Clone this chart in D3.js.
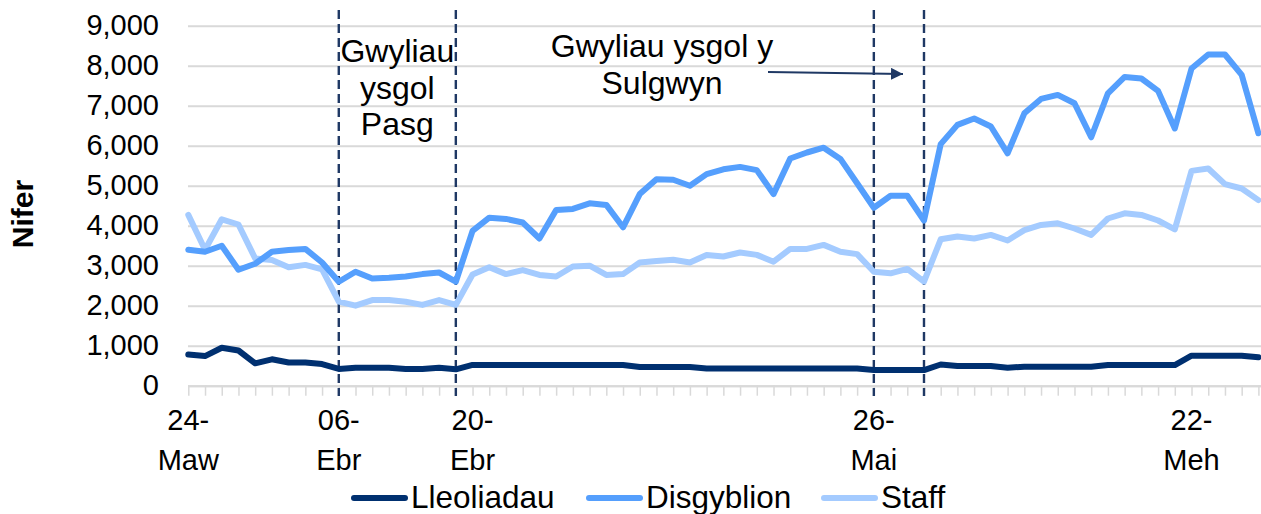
<!DOCTYPE html>
<html>
<head>
<meta charset="utf-8">
<script src="https://cdn.jsdelivr.net/npm/d3@7"></script>
<style>
  html, body { margin: 0; padding: 0; background: #ffffff; }
  svg { display: block; }
  text { font-family: "Liberation Sans", Arial, sans-serif; fill: #000; }
</style>
</head>
<body>
<svg id="chart" width="1261" height="514"></svg>
<script>
const categories = [
  "24-Maw","25-Maw","26-Maw","27-Maw","30-Maw","31-Maw","01-Ebr","02-Ebr","03-Ebr",
  "06-Ebr","07-Ebr","08-Ebr","09-Ebr","14-Ebr","15-Ebr","16-Ebr","17-Ebr",
  "20-Ebr","21-Ebr","22-Ebr","23-Ebr","24-Ebr","27-Ebr","28-Ebr","29-Ebr","30-Ebr",
  "01-Mai","04-Mai","05-Mai","06-Mai","07-Mai","11-Mai","12-Mai","13-Mai","14-Mai","15-Mai",
  "18-Mai","19-Mai","20-Mai","21-Mai","22-Mai","26-Mai","27-Mai","28-Mai","29-Mai",
  "01-Meh","02-Meh","03-Meh","04-Meh","05-Meh","08-Meh","09-Meh","10-Meh","11-Meh","12-Meh",
  "15-Meh","16-Meh","17-Meh","18-Meh","19-Meh","22-Meh","23-Meh","24-Meh","25-Meh","26-Meh"
];

const lleoliadau = [
  780,740,950,880,560,660,580,580,540,
  420,450,450,450,420,420,450,410,
  520,520,520,520,520,520,520,520,520,
  520,470,470,470,470,430,430,430,430,430,
  430,430,430,430,430,390,390,390,390,
  530,490,490,490,450,475,475,475,475,475,
  515,515,515,515,515,750,750,750,750,710
];

const disgyblion = [
  3400,3350,3500,2900,3050,3350,3390,3420,3080,
  2600,2850,2680,2700,2730,2790,2830,2600,
  3870,4200,4170,4080,3680,4390,4420,4560,4520,
  3960,4790,5160,5150,5000,5290,5410,5470,5390,4790,
  5680,5830,5950,5670,5060,4450,4750,4750,4130,
  6040,6520,6680,6480,5810,6810,7170,7270,7060,6210,
  7310,7720,7680,7370,6430,7930,8280,8280,7770,6310
];

const staff = [
  4270,3400,4160,4030,3180,3140,2960,3020,2910,
  2100,2000,2140,2140,2100,2020,2140,2020,
  2780,2960,2790,2890,2770,2730,2980,3000,2770,
  2790,3080,3120,3150,3080,3270,3230,3330,3270,3100,
  3420,3420,3520,3350,3290,2850,2810,2920,2600,
  3660,3730,3680,3770,3630,3890,4020,4060,3930,3770,
  4180,4310,4270,4130,3910,5370,5430,5040,4930,4640
];

const seriesNames = ["Lleoliadau", "Disgyblion", "Staff"];
const yTicks = [0,1000,2000,3000,4000,5000,6000,7000,8000,9000];
const xTickLabels = ["24-Maw","06-Ebr","20-Ebr","26-Mai","22-Meh"];
const holidayMarkers = ["06-Ebr","17-Ebr","26-Mai","29-Mai"];
const annotationEaster = ["Gwyliau","ysgol","Pasg"];
const annotationWhitsun = ["Gwyliau ysgol y","Sulgwyn"];
const yTitle = "Nifer";

const colors = { "Lleoliadau": "#003070", "Disgyblion": "#559ffd", "Staff": "#a4cbff" };
const FS = 29;

const svg = d3.select("#chart");
const x = d3.scalePoint().domain(categories).range([188.3, 1258.4]);
const y = d3.scaleLinear().domain([0, 9000]).range([385.7, 25.7]);
const plotRight = 1261;

// gridlines
const grid = svg.append("g").attr("transform", "translate(188,0)")
  .call(d3.axisLeft(y).tickValues(yTicks).tickSize(-(plotRight - 188)).tickFormat(""));
grid.select(".domain").remove();
grid.selectAll("line").attr("stroke", "#d9d9d9").attr("stroke-width", 2);

// x axis ticks
const xAxis = svg.append("g").attr("transform", `translate(0,${y(0)})`)
  .call(d3.axisBottom(x).tickSize(10).tickFormat(""));
xAxis.select(".domain").attr("stroke", "#d9d9d9").attr("stroke-width", 2)
  .attr("d", `M188,0.5H${plotRight}`);
xAxis.selectAll(".tick line").attr("stroke", "#d9d9d9").attr("stroke-width", 1.5);

// x labels
const xl = svg.append("g");
xTickLabels.forEach(lbl => {
  const parts = lbl.split("-");
  const t = xl.append("text").attr("text-anchor", "middle").attr("font-size", FS);
  t.append("tspan").attr("x", x(lbl)).attr("y", 430).text(parts[0] + "-");
  t.append("tspan").attr("x", x(lbl)).attr("y", 470).text(parts[1]);
});

// y axis labels
const yAxis = svg.append("g").attr("transform", "translate(159,0)")
  .call(d3.axisLeft(y).tickValues(yTicks).tickSize(0).tickPadding(0).tickFormat(d3.format(",")));
yAxis.select(".domain").remove();
yAxis.selectAll("text").attr("font-size", FS).attr("fill", "#000")
  .attr("font-family", '"Liberation Sans", Arial, sans-serif');

// y title
svg.append("text").attr("transform", "translate(33,214) rotate(-90)")
  .attr("text-anchor", "middle").attr("font-size", 30).attr("font-weight", "bold").text(yTitle);

// holiday dashed lines
svg.append("g").selectAll("line").data(holidayMarkers).join("line")
  .attr("x1", d => x(d)).attr("x2", d => x(d))
  .attr("y1", 10).attr("y2", 396)
  .attr("stroke", "#1f3864").attr("stroke-width", 2.4)
  .attr("stroke-dasharray", "9,5");

// lines
const dataBySeries = { "Lleoliadau": lleoliadau, "Disgyblion": disgyblion, "Staff": staff };
const line = d3.line().x((d, i) => x(categories[i])).y(d => y(d));
svg.append("defs").append("clipPath").attr("id", "clip")
  .append("rect").attr("x", 150).attr("y", 0).attr("width", plotRight - 150).attr("height", 400);
const lg = svg.append("g").attr("clip-path", "url(#clip)");
["Staff", "Disgyblion", "Lleoliadau"].forEach(name => {
  lg.append("path").datum(dataBySeries[name])
    .attr("d", line).attr("fill", "none")
    .attr("stroke", colors[name]).attr("stroke-width", 6)
    .attr("stroke-linejoin", "round").attr("stroke-linecap", "round");
});

// annotations
const ea = svg.append("text").attr("text-anchor", "middle").attr("font-size", 32);
annotationEaster.forEach((s, i) => {
  ea.append("tspan").attr("x", (x("06-Ebr") + x("17-Ebr")) / 2).attr("y", 62 + i * 36.5).text(s);
});
const wa = svg.append("text").attr("text-anchor", "middle").attr("font-size", 32);
annotationWhitsun.forEach((s, i) => {
  wa.append("tspan").attr("x", 662).attr("y", 57 + i * 36.5).text(s);
});
svg.append("defs").append("marker").attr("id", "arrow")
  .attr("viewBox", "0 0 10 10").attr("refX", 10).attr("refY", 5)
  .attr("markerWidth", 6).attr("markerHeight", 6).attr("markerUnits", "strokeWidth")
  .attr("orient", "auto")
  .append("path").attr("d", "M0,0L10,5L0,10z").attr("fill", "#1f3864");
svg.append("line").attr("x1", 768).attr("y1", 72).attr("x2", 903).attr("y2", 74)
  .attr("stroke", "#1f3864").attr("stroke-width", 2).attr("marker-end", "url(#arrow)");

// legend
const legendX = [354, 589, 824];
const leg = svg.append("g");
seriesNames.forEach((name, i) => {
  leg.append("line").attr("x1", legendX[i]).attr("x2", legendX[i] + 51)
    .attr("y1", 498).attr("y2", 498)
    .attr("stroke", colors[name]).attr("stroke-width", 6).attr("stroke-linecap", "round");
  leg.append("text").attr("x", legendX[i] + 57).attr("y", 508)
    .attr("font-size", 31.5).text(name);
});
</script>
</body>
</html>
